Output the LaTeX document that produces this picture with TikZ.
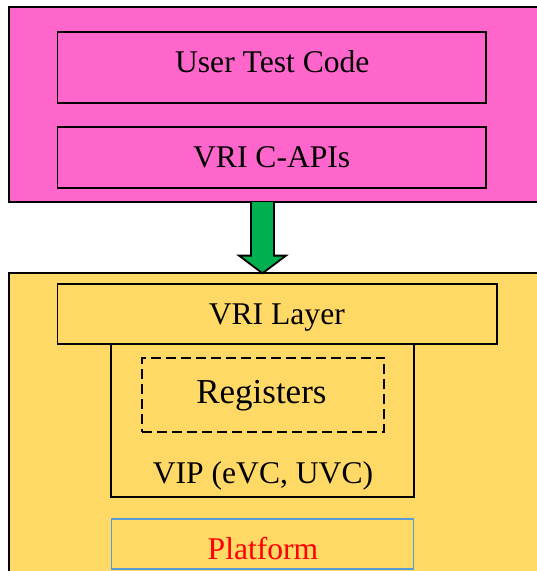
\documentclass[tikz,border=0pt]{standalone}
\usepackage{fontspec}
\setmainfont{Liberation Serif}
\usetikzlibrary{calc}
\definecolor{pinkc}{HTML}{FF66CC}
\definecolor{yellowc}{HTML}{FFD966}
\definecolor{greenc}{HTML}{00B050}
\definecolor{bluec}{HTML}{5B9BD5}
\begin{document}
\begin{tikzpicture}[x=1pt,y=-1pt,
  box/.style={draw=black, line width=1.7pt, inner sep=0pt, outer sep=0pt, anchor=north west},
  outerbox/.style={draw=black, line width=2pt, inner sep=0pt, outer sep=0pt, anchor=north west},
  lbl/.style={inner sep=0pt, anchor=base, font=\fontsize{31.6}{36}\selectfont},
  dashbox/.style={box, dash pattern=on 10pt off 5pt},
  arrowbody/.style={draw=black, fill=greenc, line width=1.8pt, line join=miter}
]
\path[use as bounding box] (0,0) rectangle (537,571);
\clip (0,0) rectangle (537,571);

% host (pink) block
\node[outerbox, fill=pinkc, minimum width=545pt, minimum height=194.7pt] (host) at (9.2,7.3) {};
\node[box, minimum width=428.5pt, minimum height=71pt] (utc) at (57.5,32) {};
\node[lbl] (utct) at (272.3,72.7) {User Test Code};
\node[box, minimum width=428.5pt, minimum height=61pt] (capi) at (57.5,127) {};
\node[lbl] (capit) at (271.7,167) {VRI C-APIs};

% target (yellow) block
\node[outerbox, fill=yellowc, minimum width=545pt, minimum height=320pt] (target) at (9,273.3) {};
\node[box, minimum width=302.4pt, minimum height=153pt] (vip) at (111.3,344) {};
\node[box, minimum width=439.2pt, minimum height=60pt] (vril) at (57.5,284) {};
\node[lbl] (vrilt) at (276.8,324) {VRI Layer};
\node[dashbox, minimum width=242.4pt, minimum height=74pt] (regs) at (141.8,358) {};
\node[lbl, font=\fontsize{35}{40}\selectfont] (regst) at (261.4,403.3) {Registers};
\node[lbl] (vipt) at (263,483) {VIP (eVC, UVC)};
\node[box, draw=bluec, line width=1.5pt, minimum width=302.4pt, minimum height=50pt] (plat) at (111.3,519) {};
\node[lbl, text=red] (platt) at (263,559.5) {Platform};

% block arrow
\coordinate (ax) at (262.5,0);
\coordinate (atop) at (host.south -| ax);
\coordinate (atip) at (target.north -| ax);
\fill[greenc] ($(atop)+(-11.5,0)$) -- ($(atip)+(-11.5,-17.7)$) -- ($(atip)+(-23.5,-17.7)$) -- (atip)
  -- ($(atip)+(23.5,-17.7)$) -- ($(atip)+(11.5,-17.7)$) -- ($(atop)+(11.5,0)$) -- cycle;
\draw[arrowbody, fill=none] ($(atop)+(-11.5,0)$) -- ($(atip)+(-11.5,-17.7)$) -- ($(atip)+(-23.5,-17.7)$) -- (atip)
  -- ($(atip)+(23.5,-17.7)$) -- ($(atip)+(11.5,-17.7)$) -- ($(atop)+(11.5,0)$);
\end{tikzpicture}
\end{document}
